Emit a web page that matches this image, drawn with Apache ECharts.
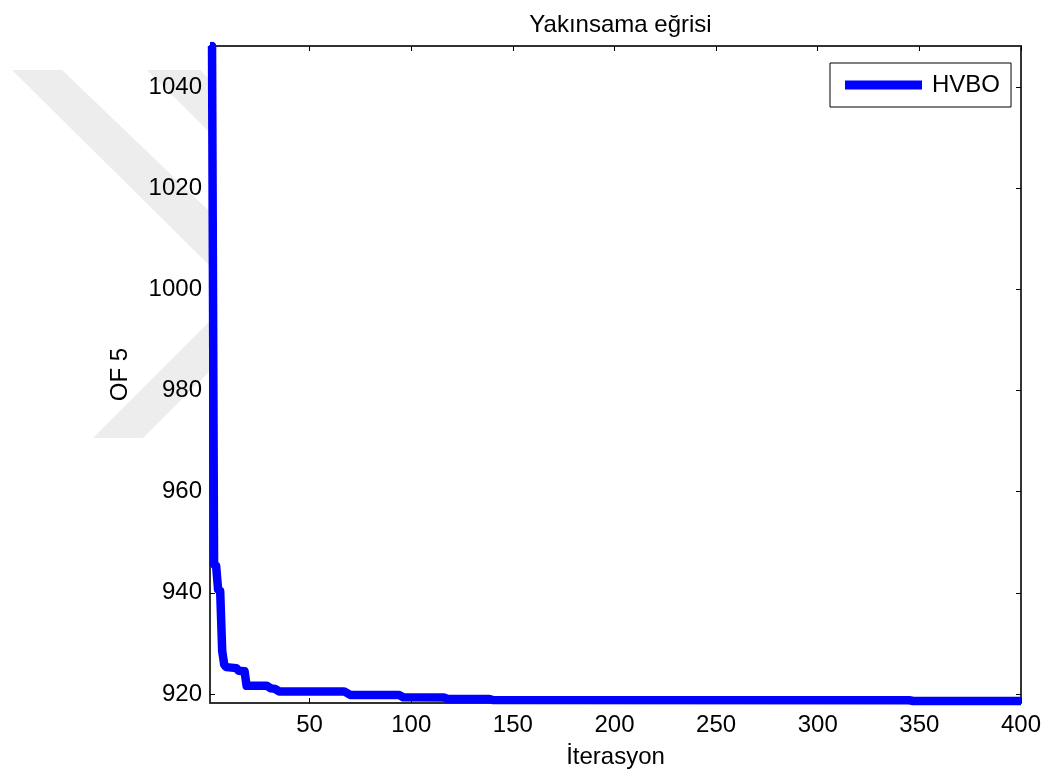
<!DOCTYPE html>
<html>
<head>
<meta charset="utf-8">
<script src="https://cdn.jsdelivr.net/npm/echarts@6/dist/echarts.min.js"></script>
<style>
  html, body { margin: 0; padding: 0; background: #ffffff; }
  #chart { width: 1048px; height: 777px; }
</style>
</head>
<body>
<div id="chart"></div>
<script>
// Convergence curve: best objective value (OF 5) per iteration
const seriesName = 'HVBO';
const iterations = [1, 2, 3, 4, 5, 6, 7, 8, 9, 14, 15, 18, 19, 29, 31, 33, 35, 67, 70, 94, 96, 116, 118, 138, 140, 345, 347, 400];
const ofValues = [1048.2, 1048.2, 945.6, 945.4, 940.6, 940.4, 928.5, 925.8, 925.3, 925.1, 924.6, 924.5, 921.6, 921.6, 921.1, 921.0, 920.5, 920.5, 919.8, 919.8, 919.35, 919.3, 919.0, 919.0, 918.8, 918.75, 918.6, 918.6];
const xTicks = [50, 100, 150, 200, 250, 300, 350, 400];
const yTicks = [920, 940, 960, 980, 1000, 1020, 1040];

const X_MIN = 1, X_MAX = 400;
const Y_MIN = 918.2, Y_MAX = 1048.2;

const FONT = '"Liberation Sans", Arial, sans-serif';
const AXIS_COLOR = '#262626';

const points = iterations.map((it, i) => [it, ofValues[i]]);

const chart = echarts.init(document.getElementById('chart'), null, { renderer: 'canvas' });

const tickStyle = { show: true, inside: true, length: 5, lineStyle: { color: '#000', width: 1 } };
const plainNumber = (v) => String(Math.round(v));

chart.setOption({
  animation: false,
  backgroundColor: '#ffffff',
  textStyle: { fontFamily: FONT },
  title: {
    text: 'Yakınsama eğrisi',
    left: 615.5,
    top: 8,
    textAlign: 'center',
    textStyle: { fontFamily: FONT, fontSize: 24, fontWeight: 'normal', color: '#000' }
  },
  // light diagonal watermark bands to the left of the plot
  graphic: [
    { type: 'polygon', z: -10, shape: { points: [[12, 70], [62, 70], [210, 212], [210, 266]] }, style: { fill: '#ededed' } },
    { type: 'polygon', z: -10, shape: { points: [[147, 70], [200, 70], [210, 80], [210, 133]] }, style: { fill: '#ededed' } },
    { type: 'polygon', z: -10, shape: { points: [[93, 438], [143, 438], [210, 371], [210, 321]] }, style: { fill: '#ededed' } }
  ],
  grid: {
    left: 210, top: 46, width: 811, height: 657,
    show: true, backgroundColor: '#ffffff', borderColor: AXIS_COLOR, borderWidth: 1.5,
    containLabel: false
  },
  legend: {
    left: 830, top: 63,
    padding: [10, 11, 10, 15],
    backgroundColor: '#ffffff',
    borderColor: '#000', borderWidth: 1, borderRadius: 0,
    itemWidth: 77, itemHeight: 9,
    icon: 'rect',
    data: [seriesName],
    textStyle: { fontFamily: FONT, fontSize: 24, color: '#000', padding: [0, 0, 0, 5] }
  },
  xAxis: [
    {
      type: 'value', min: X_MIN, max: X_MAX, position: 'bottom',
      name: 'İterasyon', nameLocation: 'middle', nameGap: 42,
      nameTextStyle: { fontFamily: FONT, fontSize: 24, color: '#000' },
      axisLine: { show: true, onZero: false, lineStyle: { color: AXIS_COLOR, width: 1.5 } },
      axisTick: Object.assign({ customValues: xTicks }, tickStyle),
      axisLabel: { customValues: xTicks, formatter: plainNumber, fontFamily: FONT, fontSize: 24, color: '#000', margin: 10 },
      splitLine: { show: false }
    },
    {
      type: 'value', min: X_MIN, max: X_MAX, position: 'top',
      axisLine: { show: true, onZero: false, lineStyle: { color: AXIS_COLOR, width: 1.5 } },
      axisTick: Object.assign({ customValues: xTicks }, tickStyle),
      axisLabel: { show: false },
      splitLine: { show: false }
    }
  ],
  yAxis: [
    {
      type: 'value', min: Y_MIN, max: Y_MAX, position: 'left',
      name: 'OF 5', nameLocation: 'middle', nameGap: 78, nameRotate: 90,
      nameTextStyle: { fontFamily: FONT, fontSize: 24, color: '#000' },
      axisLine: { show: true, onZero: false, lineStyle: { color: AXIS_COLOR, width: 1.5 } },
      axisTick: Object.assign({ customValues: yTicks }, tickStyle),
      axisLabel: { customValues: yTicks, formatter: plainNumber, fontFamily: FONT, fontSize: 24, color: '#000', margin: 8 },
      splitLine: { show: false }
    },
    {
      type: 'value', min: Y_MIN, max: Y_MAX, position: 'right',
      axisLine: { show: true, onZero: false, lineStyle: { color: AXIS_COLOR, width: 1.5 } },
      axisTick: Object.assign({ customValues: yTicks }, tickStyle),
      axisLabel: { show: false },
      splitLine: { show: false }
    }
  ],
  series: [
    {
      name: seriesName,
      type: 'line',
      xAxisIndex: 0, yAxisIndex: 0,
      data: points,
      showSymbol: false,
      symbol: 'none',
      clip: true,
      color: '#0000ff',
      lineStyle: { color: '#0000ff', width: 8.5, join: 'round', cap: 'butt' }
    }
  ]
});
</script>
</body>
</html>
